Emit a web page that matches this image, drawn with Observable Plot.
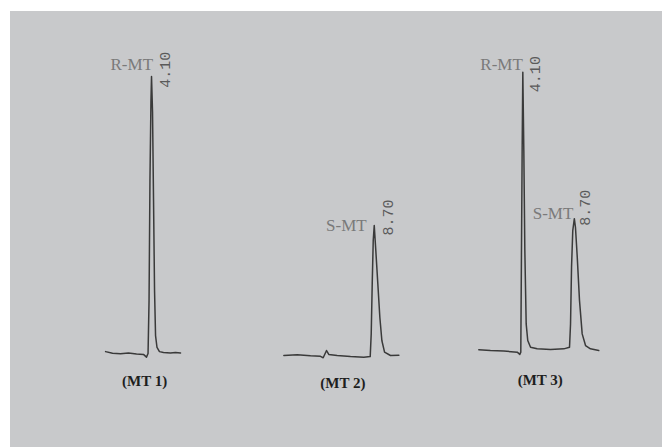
<!DOCTYPE html>
<html><head><meta charset="utf-8">
<script src="https://cdn.jsdelivr.net/npm/d3@7"></script>
<script src="https://cdn.jsdelivr.net/npm/@observablehq/plot@0.6"></script>
<style>
html,body{margin:0;padding:0;background:#fff;}
#chart{position:relative;width:662px;height:447px;overflow:hidden;background:#fff;}
#paper{position:absolute;left:10px;top:11px;right:0;bottom:0;background:#c8c9cb;}
#chart svg{position:absolute;left:0;top:0;}
</style></head><body><div id="chart"><div id="paper"></div></div>
<script>
// Panel captions
const panels = ["(MT 1)", "(MT 2)", "(MT 3)"];

// Chromatogram traces: retention time (min) and detector signal (arbitrary units)
const mt1Time   = [0.00, 0.62, 1.33, 2.04, 2.76, 3.38, 3.65, 3.79, 3.88, 3.96, 4.05, 4.10, 4.19, 4.28, 4.37, 4.46, 4.59, 4.81, 5.17, 5.79, 6.24, 6.69];
const mt1Signal = [1.4, 0.8, 0.6, 0.9, 0.5, 0.4, -0.6, 0.7, 19.9, 63, 92, 100.7, 88, 56, 23.5, 7.2, 2.9, 1.4, 1.1, 0.9, 1.1, 0.9];

const mt2Time   = [0.63, 1.82, 3.01, 3.90, 4.14, 4.44, 4.64, 5.39, 6.58, 7.77, 8.34, 8.43, 8.52, 8.61, 8.70, 8.84, 9.02, 9.20, 9.38, 9.62, 10.15, 10.90];
const mt2Signal = [0.0, 0.3, -0.1, -0.3, -0.8, 1.8, 0.4, 0.0, -0.4, -0.6, -0.4, 7.8, 25.9, 41.5, 46.9, 37.9, 25.9, 13.8, 5.4, 1.2, 0.0, 0.1];

const mt3Time   = [0.17, 1.21, 2.40, 3.60, 3.83, 3.92, 3.98, 4.04, 4.10, 4.19, 4.28, 4.40, 4.54, 4.79, 5.38, 6.57, 7.76, 8.27, 8.36, 8.45, 8.56, 8.70, 8.80, 8.96, 9.16, 9.40, 9.70, 10.14, 10.88];
const mt3Signal = [2.1, 1.8, 1.6, 1.2, 0.4, 1.2, 37.9, 74, 102.3, 74, 37.9, 11.4, 5.4, 3.0, 2.4, 2.2, 2.4, 3.0, 11.4, 31.9, 45.1, 49.4, 46.3, 35.5, 19.9, 7.8, 3.6, 2.4, 1.8];

// Peaks
const peakPanel  = [0, 1, 2, 2];
const peakName   = ["R-MT", "S-MT", "R-MT", "S-MT"];
const peakTime   = [4.10, 8.70, 4.10, 8.70];
const peakHeight = [100.7, 46.9, 102.3, 49.4];
const peakLabel  = ["4.10", "8.70", "4.10", "8.70"];

const traces = [
  {time: mt1Time, signal: mt1Signal},
  {time: mt2Time, signal: mt2Signal},
  {time: mt3Time, signal: mt3Signal}
];

// ---- layout / style (not data) ----
const pxPerMin = 11.2;
const panelOrigin = [105.1, 276.3, 476.4];
const nameDx = [1.5, -7.5, 0, -1];
const nameDy = [-6.7, 5.7, -1.7, 0.7];
const rtDx = [14, 13.8, 12, 10.5];
const rtDy = [11.3, 10, 20, 7];
const capDy = [30, 32, 29];

const chart = document.getElementById("chart");
panels.forEach((caption, i) => {
  const rows = traces[i].time.map((t, j) => ({t, s: traces[i].signal[j]}));
  const pk = peakTime.map((t, j) => ({t, h: peakHeight[j], name: peakName[j], rt: peakLabel[j], j}))
                     .filter(d => peakPanel[d.j] === i);
  const ext = d3.extent(traces[i].time);
  const mid = (ext[0] + ext[1]) / 2;
  const marks = [
    Plot.line(rows, {x: "t", y: "s", stroke: "#3a3a3a", strokeWidth: 1.5, strokeLinejoin: "round"})
  ];
  pk.forEach(d => {
    marks.push(Plot.text([d], {
      x: "t", y: "h", text: "name", textAnchor: "end", lineAnchor: "bottom",
      dx: nameDx[d.j], dy: nameDy[d.j],
      fontFamily: "Liberation Serif", fontSize: 17, fill: "#7a7a7a"
    }));
    marks.push(Plot.text([d], {
      x: "t", y: "h", text: "rt", rotate: -90, textAnchor: "start", lineAnchor: "middle",
      dx: rtDx[d.j], dy: rtDy[d.j],
      fontFamily: "Liberation Mono", fontSize: 15, fill: "#5a5a5a"
    }));
  });
  marks.push(Plot.text([caption], {
    x: () => mid, y: () => 0, text: d => d, textAnchor: "middle", lineAnchor: "bottom",
    dx: 1.5, dy: capDy[i],
    fontFamily: "Liberation Serif", fontWeight: "bold", fontSize: 15, fill: "#1e1e1e"
  }));
  const svg = Plot.plot({
    width: 662, height: 447,
    style: {background: "transparent", overflow: "visible"},
    x: {domain: [0, 12], range: [panelOrigin[i], panelOrigin[i] + 12 * pxPerMin], axis: null},
    y: {domain: [0, 100], range: [355, 78], axis: null},
    marks
  });
  chart.appendChild(svg);
});
</script>
</body></html>
